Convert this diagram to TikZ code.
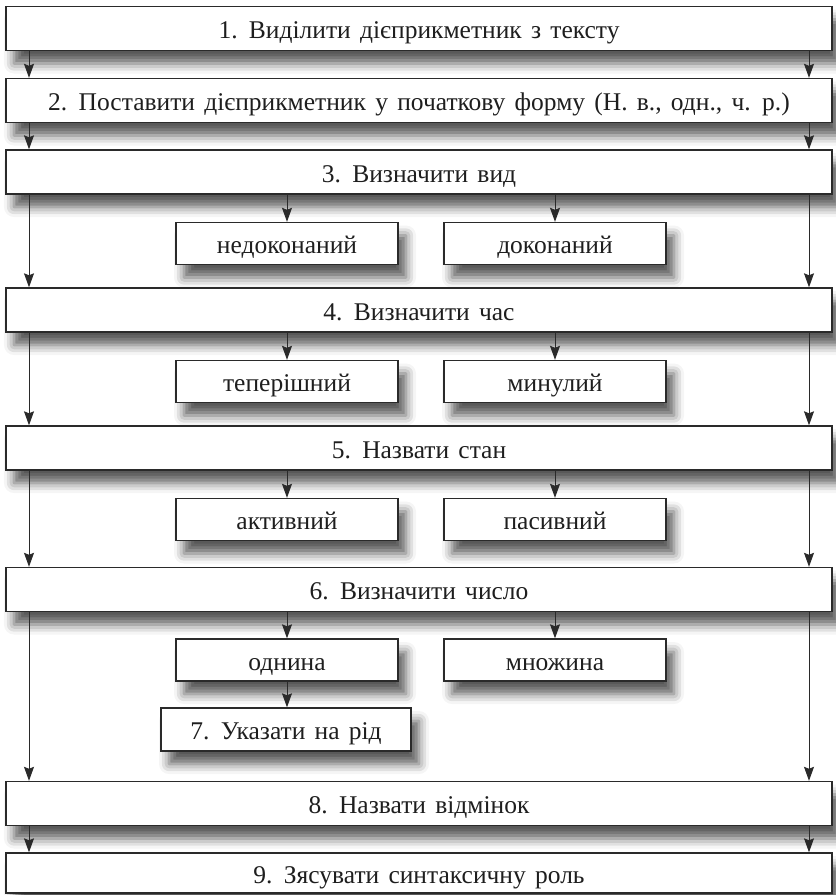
\documentclass[tikz,border=0pt]{standalone}
\usepackage{fontspec}
\setmainfont[WordSpace={1.45}]{Liberation Serif}
\usetikzlibrary{arrows.meta,shadows.blur}
\definecolor{linec}{HTML}{2A2A2A}
\definecolor{textc}{HTML}{1E1E1E}
\tikzset{
  box/.style={draw=linec, line width=1.4bp, fill=white, inner sep=0pt,
    text=textc, font=\fontsize{25.5bp}{30bp}\selectfont,
    text height=20bp, text depth=0bp,
    blur shadow={shadow xshift=8bp, shadow yshift=-13bp, shadow blur radius=10bp, shadow opacity=65}},
  mainbox/.style={box, minimum width=826bp, minimum height=44bp},
  subbox/.style={box, minimum width=222bp, minimum height=42bp},
  arr/.style={draw=linec, line width=0.9bp, -{Stealth[length=14bp,width=10bp,inset=2bp]}}
}
\begin{document}
\begin{tikzpicture}[x=1bp,y=-1bp]
\useasboundingbox (0,0) rectangle (836,895);
\node[mainbox] (b1) at (419,28.5) {1. Виділити дієприкметник з тексту};
\node[mainbox] (b2) at (419,100.5) {2. Поставити дієприкметник у початкову форму (Н. в., одн., ч. р.)};
\node[mainbox] (b3) at (419,172) {3. Визначити вид};
\node[subbox] (s31) at (287,243.5) {недоконаний};
\node[subbox] (s32) at (555,243.5) {доконаний};
\node[mainbox] (b4) at (419,310) {4. Визначити час};
\node[subbox] (s41) at (287,381.5) {теперішний};
\node[subbox] (s42) at (555,381.5) {минулий};
\node[mainbox] (b5) at (419,448) {5. Назвати стан};
\node[subbox] (s51) at (287,519.5) {активний};
\node[subbox] (s52) at (555,519.5) {пасивний};
\node[mainbox] (b6) at (419,589.5) {6. Визначити число};
\node[subbox] (s61) at (287,660) {однина};
\node[subbox] (s62) at (555,660) {множина};
\node[box, minimum width=250bp, minimum height=43bp] (b7) at (286,729.5) {7. Указати на рід};
\node[mainbox] (b8) at (419,803.5) {8. Назвати відмінок};
\node[mainbox, minimum height=40bp] (b9) at (419,873) {9. Зясувати синтаксичну роль};
% side arrows
\foreach \a/\b in {b1/b2,b2/b3,b3/b4,b4/b5,b5/b6,b6/b8,b8/b9}{
  \draw[arr] (\a.south -| 29,0) -- (\b.north -| 29,0);
  \draw[arr] (\a.south -| 809,0) -- (\b.north -| 809,0);
}
% middle arrows
\foreach \a/\l/\r in {b3/s31/s32,b4/s41/s42,b5/s51/s52,b6/s61/s62}{
  \draw[arr] (\a.south -| \l) -- (\l.north);
  \draw[arr] (\a.south -| \r.north) -- (\r.north);
}
\draw[arr] (s61.south) -- (b7.north -| s61.south);
\end{tikzpicture}
\end{document}
